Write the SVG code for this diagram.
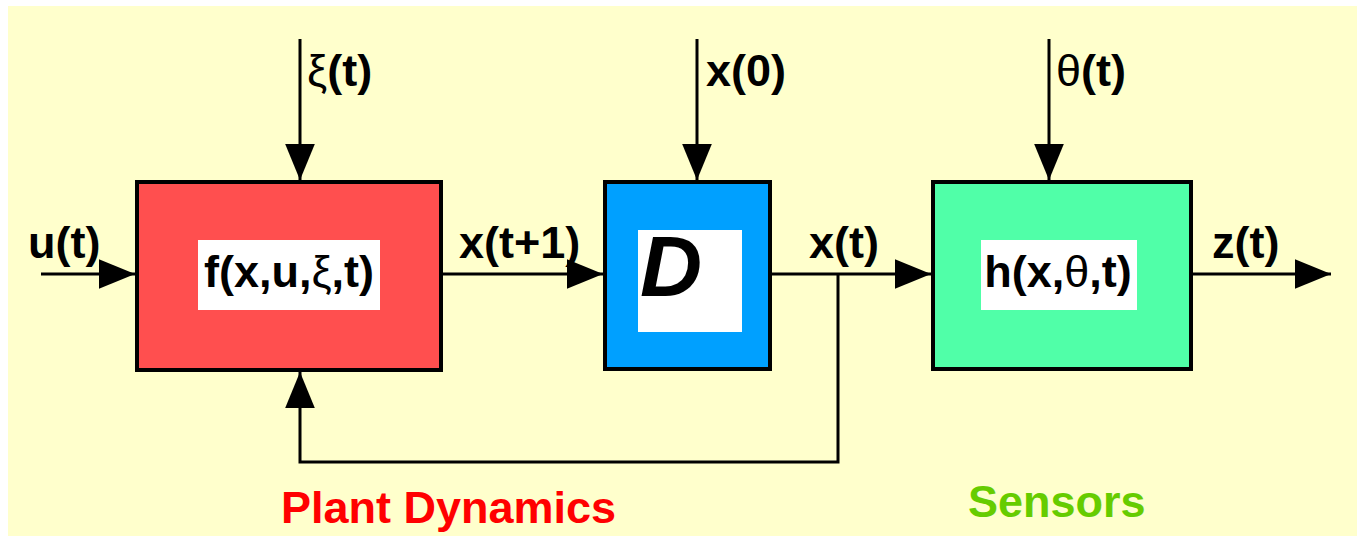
<svg xmlns="http://www.w3.org/2000/svg" width="1357" height="536" viewBox="0 0 1357 536">
<style>
.box{stroke:#000;stroke-width:4}
.lbl{fill:#fff}
.t{font-family:"Liberation Sans",Arial,sans-serif;font-weight:bold;font-size:45px;fill:#000}
.g{font-weight:normal}
.wire{fill:none;stroke:#000;stroke-width:3}
.cap{font-family:"Liberation Sans",Arial,sans-serif;font-weight:bold;font-size:45px}
</style>
<defs>
<marker id="ah" markerUnits="userSpaceOnUse" markerWidth="36" markerHeight="30" viewBox="0 0 34 28" refX="34" refY="14" orient="auto">
<path d="M0,0 L34,14 L0,28 z" fill="#000"/>
</marker>
</defs>
<rect x="0" y="0" width="1357" height="536" fill="#fff"/>
<rect x="8" y="6" width="1349" height="530" fill="#FFFFCC"/>
<g id="connectors">
<line class="wire" x1="300" y1="39" x2="300" y2="180" marker-end="url(#ah)"/>
<line class="wire" x1="697" y1="39" x2="697" y2="180" marker-end="url(#ah)"/>
<line class="wire" x1="1049" y1="39" x2="1049" y2="180" marker-end="url(#ah)"/>
<line class="wire" x1="41" y1="274" x2="135" y2="274" marker-end="url(#ah)"/>
<line class="wire" x1="443" y1="274" x2="603" y2="274" marker-end="url(#ah)"/>
<line class="wire" x1="772" y1="274" x2="931" y2="274" marker-end="url(#ah)"/>
<line class="wire" x1="1193" y1="274" x2="1331" y2="274" marker-end="url(#ah)"/>
<polyline class="wire" points="838,274 838,462 300,462 300,372" marker-end="url(#ah)"/>
</g>
<g id="plant">
<rect class="box" x="137" y="182" width="304" height="188" fill="#FF4F4F"/>
<rect class="lbl" x="198" y="240" width="182" height="70"/>
<text class="t" x="289" y="287" text-anchor="middle">f(x,u,<tspan class="g">ξ</tspan>,t)</text>
</g>
<g id="delay">
<rect class="box" x="605" y="182" width="165" height="187" fill="#00A0FF"/>
<rect class="lbl" x="638" y="230" width="104" height="102"/>
<text x="671" y="296" text-anchor="middle" font-family="Liberation Sans,Arial,sans-serif" font-weight="bold" font-style="italic" font-size="86">D</text>
</g>
<g id="sensor">
<rect class="box" x="933" y="182" width="258" height="187" fill="#50FFA8"/>
<rect class="lbl" x="981" y="240" width="156" height="70"/>
<text class="t" x="1058" y="287" text-anchor="middle">h(x,<tspan class="g">θ</tspan>,t)</text>
</g>
<g id="labels">
<text class="t" x="28" y="258">u(t)</text>
<text class="t" x="307" y="86"><tspan class="g">ξ</tspan>(t)</text>
<text class="t" x="706" y="86">x(0)</text>
<text class="t" x="1056" y="86"><tspan class="g">θ</tspan>(t)</text>
<text class="t" x="459" y="258">x(t+1)</text>
<text class="t" x="809" y="258">x(t)</text>
<text class="t" x="1212" y="258">z(t)</text>
<text class="cap" x="281" y="523" fill="#FF0000">Plant Dynamics</text>
<text class="cap" x="968" y="517" fill="#66CC00">Sensors</text>
</g>
</svg>
